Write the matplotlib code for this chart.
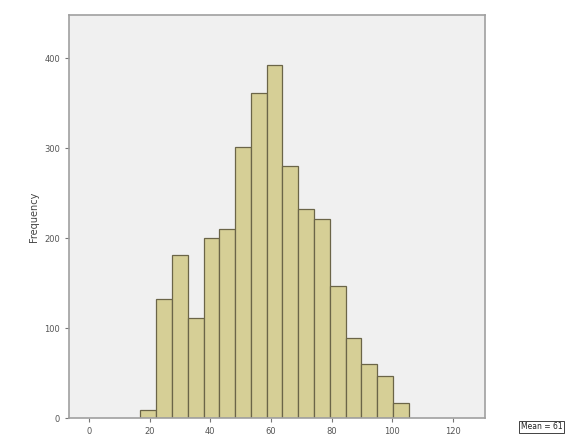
import matplotlib
matplotlib.use("Agg")
import matplotlib.pyplot as plt
import numpy as np

# histogram bins (left edges) and counts
bin_start = 17.0
bin_width = 5.2
counts = [9, 133, 181, 111, 200, 210, 302, 361, 393, 280,
          233, 222, 147, 89, 60, 47, 17]

x_ticks = [0, 20, 40, 60, 80, 100, 120]
y_ticks = [0, 100, 200, 300, 400]

matplotlib.rcParams.update({'font.size': 6})
plt.rcParams["font.family"] = "DejaVu Sans"

fig = plt.figure(figsize=(5.67, 4.45), dpi=100)
ax = fig.add_axes([0.122, 0.06, 0.733, 0.906])
ax.set_facecolor('#f0f0f0')

lefts = bin_start + bin_width * np.arange(len(counts))
ax.bar(lefts, counts, width=bin_width, align='edge',
       color='#d6cf96', edgecolor='#6b6548', linewidth=0.9)

ax.set_xlim(-6.5, 130.5)
ax.set_ylim(0, 448)
ax.set_xticks(x_ticks)
ax.set_yticks(y_ticks)
ax.tick_params(colors='#777777', labelcolor='#555555', length=3, width=0.8)
for side in ['left', 'bottom', 'top', 'right']:
    ax.spines[side].set_color('#a0a0a0')
    ax.spines[side].set_linewidth(1.2)

ax.set_ylabel("Frequency", color='#444444', fontsize=7)
fig.text(0.918, 0.035, "Mean = 61", fontsize=5.5, color='#222222',
         bbox=dict(facecolor='white', edgecolor='#222222', linewidth=0.6, pad=1.2))

fig.savefig('out.png', dpi=100)
